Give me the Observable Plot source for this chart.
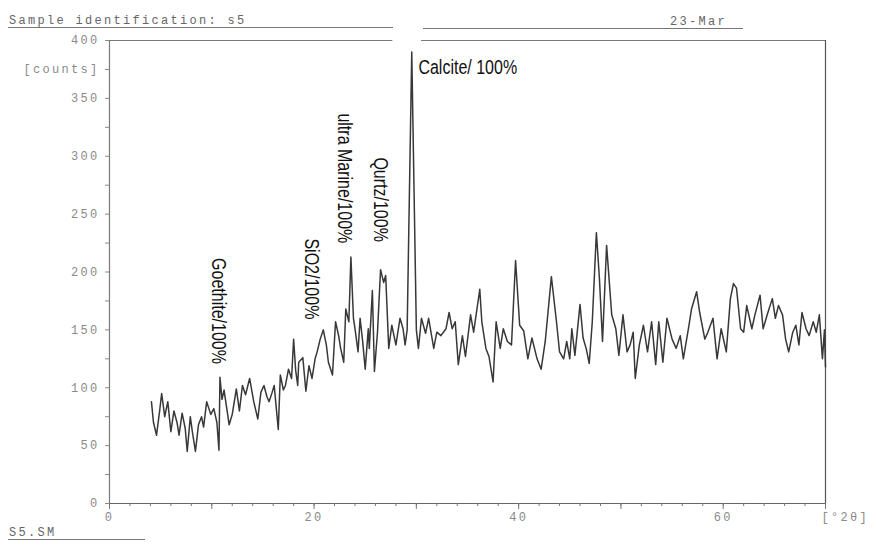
<!DOCTYPE html>
<html><head><meta charset="utf-8">
<script src="https://cdn.jsdelivr.net/npm/d3@7"></script>
<script src="https://cdn.jsdelivr.net/npm/@observablehq/plot@0.6"></script>
<style>
html,body{margin:0;padding:0;background:#fff;}
#chart{width:876px;height:547px;}
</style></head><body><div id="chart"></div>
<script>
// ---- data: diffraction angle (°2θ) and intensity (counts)
const twoTheta = [
 4.1,4.3,4.6,4.9,5.1,5.4,5.7,6.0,6.3,6.6,6.8,7.1,7.4,7.6,7.9,8.1,8.4,8.7,9.0,9.2,
 9.5,9.9,10.2,10.5,10.7,10.8,11.0,11.2,11.5,11.7,12.0,12.4,12.7,13.0,13.3,13.7,14.1,14.5,14.8,15.1,
 15.4,15.6,15.9,16.1,16.5,16.7,17.0,17.2,17.5,17.8,18.0,18.2,18.4,18.5,18.9,19.2,19.5,19.8,20.1,20.3,
 20.6,20.9,21.2,21.4,21.8,22.1,22.4,22.6,22.9,23.1,23.4,23.6,23.85,24.0,24.3,24.5,24.75,25.0,25.3,25.4,
 25.7,25.9,26.2,26.5,26.8,27.0,27.3,27.6,28.0,28.4,28.7,28.9,29.1,29.55,30.0,30.2,30.5,30.9,31.2,31.7,
 32.0,32.4,32.9,33.2,33.5,33.8,34.1,34.5,34.8,35.3,35.6,36.2,36.4,36.8,37.1,37.5,37.8,38.2,38.5,38.9,
 39.3,39.7,40.1,40.5,40.9,41.3,41.8,42.2,42.6,43.2,43.7,44.0,44.4,44.7,45.0,45.2,45.5,46.0,46.3,46.6,
 46.9,47.2,47.6,47.9,48.2,48.6,49.1,49.5,49.8,50.2,50.6,50.9,51.2,51.4,51.8,52.2,52.6,53.0,53.4,53.7,
 54.1,54.5,55.0,55.4,55.8,56.1,56.6,56.9,57.4,57.7,58.2,58.5,59.0,59.4,59.8,60.3,60.7,61.0,61.3,61.7,
 62.0,62.3,62.8,63.1,63.6,63.9,64.3,64.8,65.1,65.4,65.8,66.1,66.4,66.8,67.1,67.4,67.7,68.1,68.4,68.8,
 69.1,69.4,69.7,69.9,70.0
];
const counts = [
 88,70,59,80,95,75,88,62,80,70,59,78,65,45,75,62,45,68,75,66,
 88,77,82,70,46,109,90,98,80,68,77,99,80,102,94,108,88,73,96,102,
 92,88,96,102,64,111,98,102,116,108,142,115,102,122,126,97,119,108,125,131,
 142,150,137,122,111,157,145,134,122,168,157,213,160,151,131,160,140,116,151,134,
 184,114,148,202,191,197,134,154,137,160,151,137,150,390,150,134,160,147,160,134,
 148,145,151,165,151,157,120,145,127,163,148,185,157,134,127,105,157,134,151,140,
 137,210,154,149,125,143,125,116,140,196,157,131,125,140,125,151,128,172,143,134,
 121,157,234,194,140,223,163,151,128,163,131,137,148,108,137,154,131,157,120,157,
 122,160,142,134,145,125,151,168,183,165,142,148,160,125,151,131,177,190,186,151,
 148,171,151,163,180,151,163,177,160,171,163,142,131,148,154,137,165,151,145,157,
 148,163,125,150,118
];

// phase annotations (vertical text) and the calcite label
const phaseLabels = ["Goethite/100%", "SiO2/100%", "ultra Marine/100%", "Qurtz/100%"];
const phaseLabelX = [10.0, 19.15, 22.35, 25.85];
const phaseLabelTop = [212, 229, 337, 299];
const calciteLabel = ["Calcite/ 100%"];
const calciteLabelX = [30.2];
const calciteLabelY = [371];

// axis ticks
const yTickValues = [0,25,50,75,100,125,150,175,200,225,250,275,300,325,350,375,400];
const yTickLabels = ["0","","50","","100","","150","","200","","250","","300","","350","[counts]","400"];
const xMinorTicks = [0,2,4,6,8,10,12,14,16,18,20,22,24,26,28,30,32,34,36,38,40,42,44,46,48,50,52,54,56,58,60,62,64,66,68,70];
const xMajorTicks = [0,10,20,30,40,50,60,70];
const xTickValues = [0,20,40,60];
const xTickLabels = ["0","20","40","60"];
const xUnitLabel = "[°2θ]";

// page texts
const titleText = "Sample identification: s5";
const dateText = "23-Mar";
const fileText = "S5.SM";

// frame layout (top border is interrupted around the calcite peak on the printout)
const topBorderSegments = [[0, 27.7], [30.5, 70]];

const scan = twoTheta.map((t, i) => ({t, c: counts[i]}));
const phases = phaseLabels.map((label, i) => ({label, x: phaseLabelX[i], y: phaseLabelTop[i]}));
const calcite = calciteLabel.map((label, i) => ({label, x: calciteLabelX[i], y: calciteLabelY[i]}));
const yLabelMap = new Map(yTickValues.map((v, i) => [v, yTickLabels[i]]));
const xLabelMap = new Map(xTickValues.map((v, i) => [v, xTickLabels[i]]));

const mono = "'Liberation Mono', 'DejaVu Sans Mono', monospace";
const sans = "'Liberation Sans', Arial, sans-serif";

const chart = Plot.plot({
  width: 876, height: 547,
  marginLeft: 109, marginRight: 51, marginTop: 40, marginBottom: 44,
  x: {domain: [0, 70], label: null},
  y: {domain: [0, 400], label: null},
  style: {fontFamily: mono, fontSize: "12px", color: "#8a8a8a", background: "#fff"},
  marks: [
    Plot.ruleY(topBorderSegments, {y: () => 400, x1: d => d[0], x2: d => d[1], stroke: "#7a7a7a", strokeWidth: 1.2}),
    Plot.ruleX([70], {stroke: "#555", strokeWidth: 1.2}),
    Plot.ruleX([0], {stroke: "#7a7a7a", strokeWidth: 1.2}),
    Plot.ruleY([0], {stroke: "#666", strokeWidth: 1.2}),
    Plot.axisY(yTickValues, {tickSize: 4, tickPadding: 6, tickFormat: d => yLabelMap.get(d), stroke: "#8a8a8a", fill: "#8a8a8a"}),
    Plot.axisX(xMinorTicks, {tickSize: 3, tickFormat: () => "", stroke: "#777"}),
    Plot.axisX(xMajorTicks, {tickSize: 6, tickFormat: () => "", stroke: "#777"}),
    Plot.axisX(xTickValues, {tickSize: 0, tickPadding: 9, tickFormat: d => xLabelMap.get(d), fill: "#8a8a8a"}),
    Plot.axisX([70], {tickSize: 0, tickPadding: 9, tickFormat: () => xUnitLabel, textAnchor: "start", dx: -4, fill: "#8a8a8a"}),
    Plot.line(scan, {x: "t", y: "c", stroke: "#383838", strokeWidth: 1.5, strokeLinejoin: "round"}),
    Plot.text(phases, {x: "x", y: "y", text: "label", rotate: 90, textAnchor: "start",
      fontFamily: sans, fontSize: 20, fill: "#111"}),
    Plot.text(calcite, {x: "x", y: "y", text: "label", textAnchor: "start",
      fontFamily: sans, fontSize: 20, fill: "#111"})
  ]
});

document.getElementById("chart").appendChild(chart);

const svg = d3.select(chart);
svg.selectAll('g[aria-label$="tick label"] text').attr("letter-spacing", "2.3px");

// condensed look of the hand-typed annotations: squeeze along the reading direction
svg.selectAll('g[aria-label="text"] text').each(function () {
  const el = d3.select(this);
  const x = +el.attr("x") || 0, y = +el.attr("y") || 0;
  const t = el.attr("transform") || "";
  el.attr("x", null).attr("y", null)
    .attr("transform", `${t} translate(${x},${y}) scale(0.8,1)`);
});

// printout header / footer
const deco = svg.append("g").attr("font-family", mono).attr("font-size", 12)
  .attr("fill", "#666").attr("letter-spacing", "2.3px").attr("text-anchor", "start");
deco.append("text").attr("x", 9).attr("y", 24).text(titleText);
deco.append("text").attr("x", 670).attr("y", 25).text(dateText);
deco.append("text").attr("x", 9).attr("y", 536).text(fileText);
const lines = svg.append("g").attr("stroke", "#777").attr("stroke-width", 1.2);
lines.append("line").attr("x1", 8).attr("x2", 393).attr("y1", 27.5).attr("y2", 27.5);
lines.append("line").attr("x1", 423).attr("x2", 743).attr("y1", 28.5).attr("y2", 28.5);
lines.append("line").attr("x1", 8).attr("x2", 145).attr("y1", 539.5).attr("y2", 539.5);
</script>
</body></html>
